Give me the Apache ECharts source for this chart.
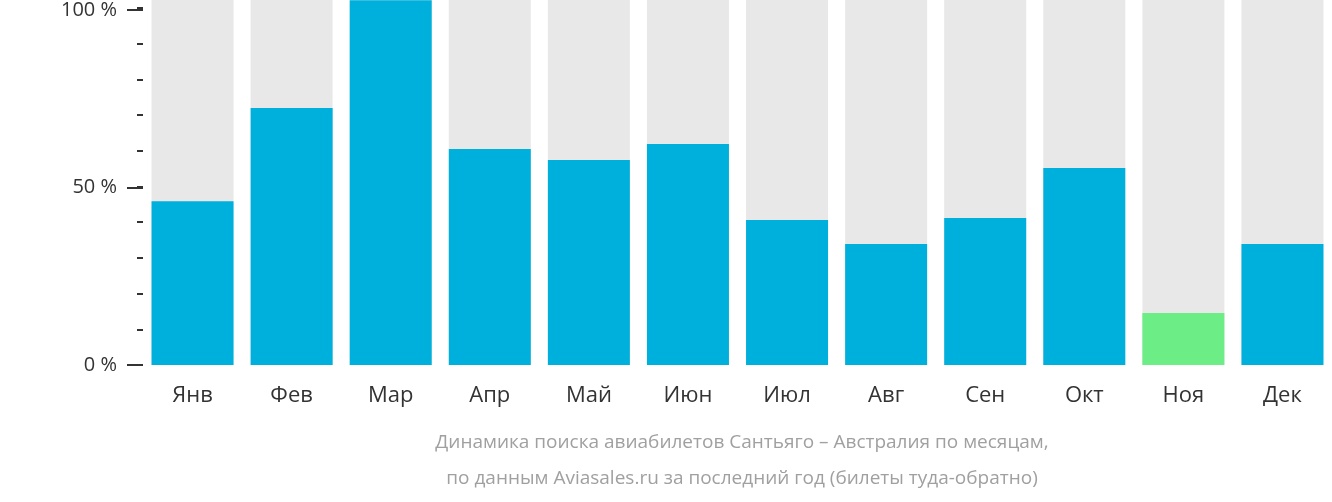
<!DOCTYPE html>
<html><head><meta charset="utf-8">
<script src="https://cdn.jsdelivr.net/npm/echarts@6/dist/echarts.min.js"></script>
<style>html,body{margin:0;padding:0;}#c{width:1332px;height:502px;}</style>
</head><body><div id="c"></div>
<script>
const months = ['Янв','Фев','Мар','Апр','Май','Июн','Июл','Авг','Сен','Окт','Ноя','Дек'];
const values = [45.9, 72.0, 102.2, 60.5, 57.4, 61.9, 40.6, 33.9, 41.2, 55.2, 14.6, 33.9];
const highlightIndex = 10;
const yLabels = {0:'0 %', 50:'50 %', 100:'100 %'};
const titleLines = ['Динамика поиска авиабилетов Сантьяго – Австралия по месяцам,','по данным Aviasales.ru за последний год (билеты туда-обратно)'];
const font = '"Open Sans", "Noto Sans", sans-serif';
const chart = echarts.init(document.getElementById('c'));
chart.setOption({
  animation:false,
  graphic: titleLines.map((t,i)=>({type:'text', left:742-370, top:430+i*36, style:{text:t, x:0, fill:'#a0a0a0', font:'19px '+font, textAlign:'left'}, left:'center', })).map((g,i)=>({type:'text', x:742, y:443+i*36, style:{text:titleLines[i], fill:'#a0a0a0', font:'19px '+font, align:'center', verticalAlign:'middle'}})),
  grid:[{left:143, right:-11, top:0, height:373},{left:143, right:-11, top:8, height:357},{left:143, right:-11, top:8, height:357}],
  xAxis:[
    {gridIndex:0, type:'category', data:months, axisLine:{show:false}, axisTick:{show:false}, axisLabel:{color:'#333', fontSize:22, fontFamily:font, margin:12}},
    {gridIndex:1, type:'category', data:months, show:false},
    {gridIndex:2, type:'category', data:months, show:false}
  ],
  yAxis:[
    {gridIndex:0, type:'value', min:-2.24, max:102.24, show:false},
    {gridIndex:1, type:'value', min:0, max:100, interval:10, axisLine:{show:false}, splitLine:{show:false},
      axisTick:{show:true, length:6, lineStyle:{color:'#333', width:2}}, axisLabel:{show:false}},
    {gridIndex:2, type:'value', min:0, max:100, interval:50, axisLine:{show:false}, splitLine:{show:false},
      axisTick:{show:true, length:16, lineStyle:{color:'#333', width:2}},
      axisLabel:{margin:26, color:'#333', fontSize:20, fontFamily:font, formatter:v=>yLabels[v]||''}}
  ],
  series:[
    {type:'bar', xAxisIndex:0, yAxisIndex:0, barWidth:82, data:months.map(()=>102.24), itemStyle:{color:'#e8e8e8'}, silent:true},
    {type:'bar', xAxisIndex:0, yAxisIndex:0, barWidth:82, barGap:'-100%', data:values.map((v,i)=>({value:v, itemStyle:{color:i===highlightIndex?'#6ced85':'#00b0dc'}}))}
  ]
});
</script></body></html>
